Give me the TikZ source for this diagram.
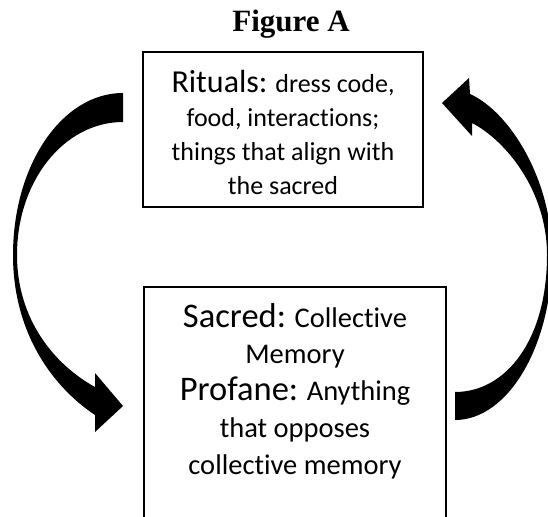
\documentclass[tikz,border=0pt]{standalone}
\usepackage{fontspec}
\setmainfont{Carlito}[Ligatures=NoCommon]
\newfontfamily\titlefont{Liberation Serif}
\usetikzlibrary{positioning}

\begin{document}
\begin{tikzpicture}
		[x=1pt,y=-1pt,
		 box/.style={draw=black,line width=1.6pt,rectangle,inner sep=0pt},
		 txt/.style={align=center,inner sep=0pt},
		 arr/.style={fill=black,draw=none}]

		\clip (0,0) rectangle (548,516);
		\fill[white] (0,0) rectangle (548,516);

		\node[font=\titlefont\bfseries\fontsize{31}{36}\selectfont,anchor=base] (title) at (291,32) {Figure A};

		\node[box,minimum width=280pt,minimum height=155pt] (rituals) at (283,129.5) {};
		\node[txt,font=\fontsize{26}{34}\selectfont] (ritualstext) at (283,132)
			{{\fontsize{32}{34}\selectfont Rituals:} dress code,\\ food, interactions;\\ things that align with\\ the sacred};

		\node[box,minimum width=302pt,minimum height=260pt] (sacred) at (295,417) {};
		\node[txt,font=\fontsize{28.5}{36.7}\selectfont] (sacredtext) at (295,391)
			{{\fontsize{34.5}{36.7}\selectfont Sacred:} Collective\\ Memory\\ {\fontsize{34.5}{36.7}\selectfont Profane:} Anything\\ that opposes\\ collective memory};

		% left arrow, rituals -> sacred
		\fill[arr] (123,93) .. controls (62,93) and (13,165) .. (13,255)
			.. controls (13,330) and (50,385) .. (95,415)
			-- (95,432) -- (123,406) -- (95,373) -- (95,387)
			.. controls (55,365) and (17,320) .. (17,255)
			.. controls (17,181) and (64,122) .. (123,122) -- cycle;

		% right arrow, sacred -> rituals
		\fill[arr] (455,420) .. controls (508,420) and (552,346) .. (552,255)
			.. controls (552,180) and (510,112) .. (470,94)
			-- (469,78) -- (442,103) -- (472,136) -- (472,123)
			.. controls (505,140) and (547,190) .. (547,255)
			.. controls (547,340) and (506,392) .. (455,392) -- cycle;

	\end{tikzpicture}
\end{document}
